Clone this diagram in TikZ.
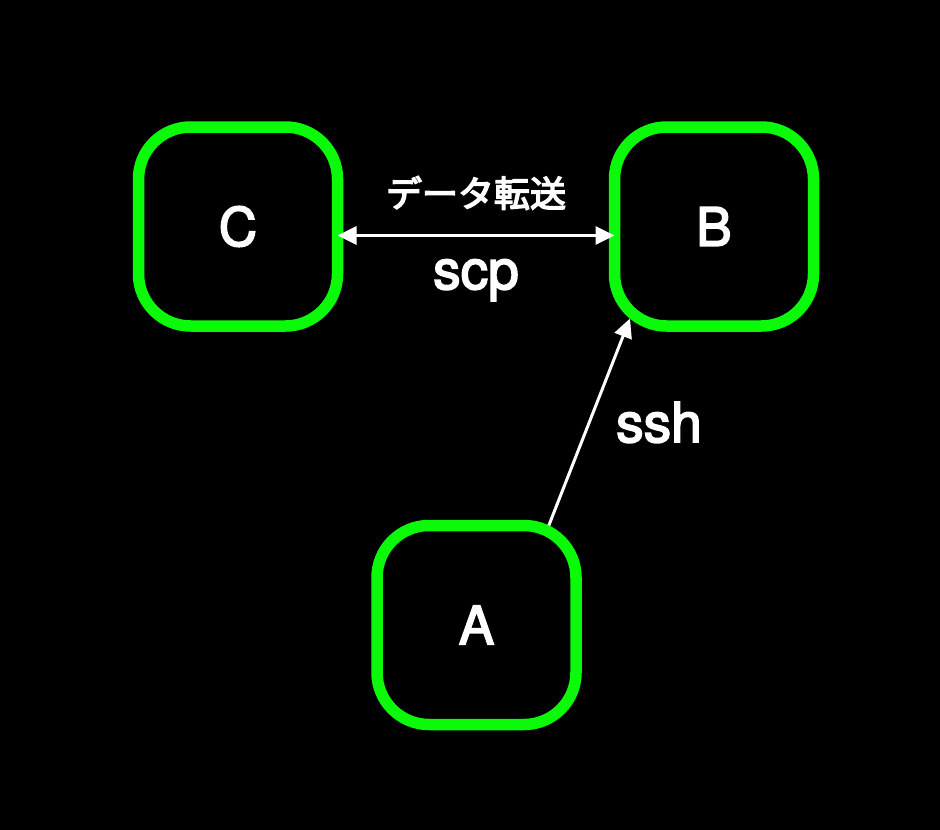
\documentclass[tikz,border=0pt]{standalone}
\usepackage{fontspec}
\setmainfont[FakeBold=3]{TeX Gyre Heros}
\newfontfamily\jpfont[FakeBold=4]{Noto Sans CJK JP}
\usetikzlibrary{arrows.meta,positioning}
\definecolor{hostgreen}{RGB}{10,250,10}

\begin{document}
\begin{tikzpicture}[x=1pt, y=-1pt, >={Triangle[length=19pt,width=18pt]},
    host/.style={draw=hostgreen, line width=11.5pt, rounded corners=52pt,
        minimum size=199pt, inner sep=0pt, outer sep=0pt, text=white,
        font=\fontsize{53}{53}\selectfont},
    link/.style={draw=white, line width=3pt},
    lbl/.style={text=white, inner sep=0pt}]
    % background
    \fill[black] (0,0) rectangle (940,830);

    % hosts
    \node[host] (C) at (238,226.5) {C};
    \node[host] (B) at (714,226.5) {B};
    \node[host] (A) at (476.5,625) {A};

    % transfer between C and B
    \draw[link, <->] ([yshift=-9pt]C.east) -- ([yshift=-9pt]B.west);
    \node[lbl, font=\jpfont\fontsize{36}{36}\selectfont] (xfer) at (476,193) {データ転送};
    \node[lbl, anchor=base, font=\fontsize{55}{55}\selectfont] (scp) at (476,289) {scp};

    % login from A to B
    \draw[link, ->] (A.54) -- ([shift={(-84pt,-92pt)}]B.center);
    \node[lbl, anchor=base, font=\fontsize{55}{55}\selectfont] (ssh) at (659,442) {ssh};
\end{tikzpicture}
\end{document}
